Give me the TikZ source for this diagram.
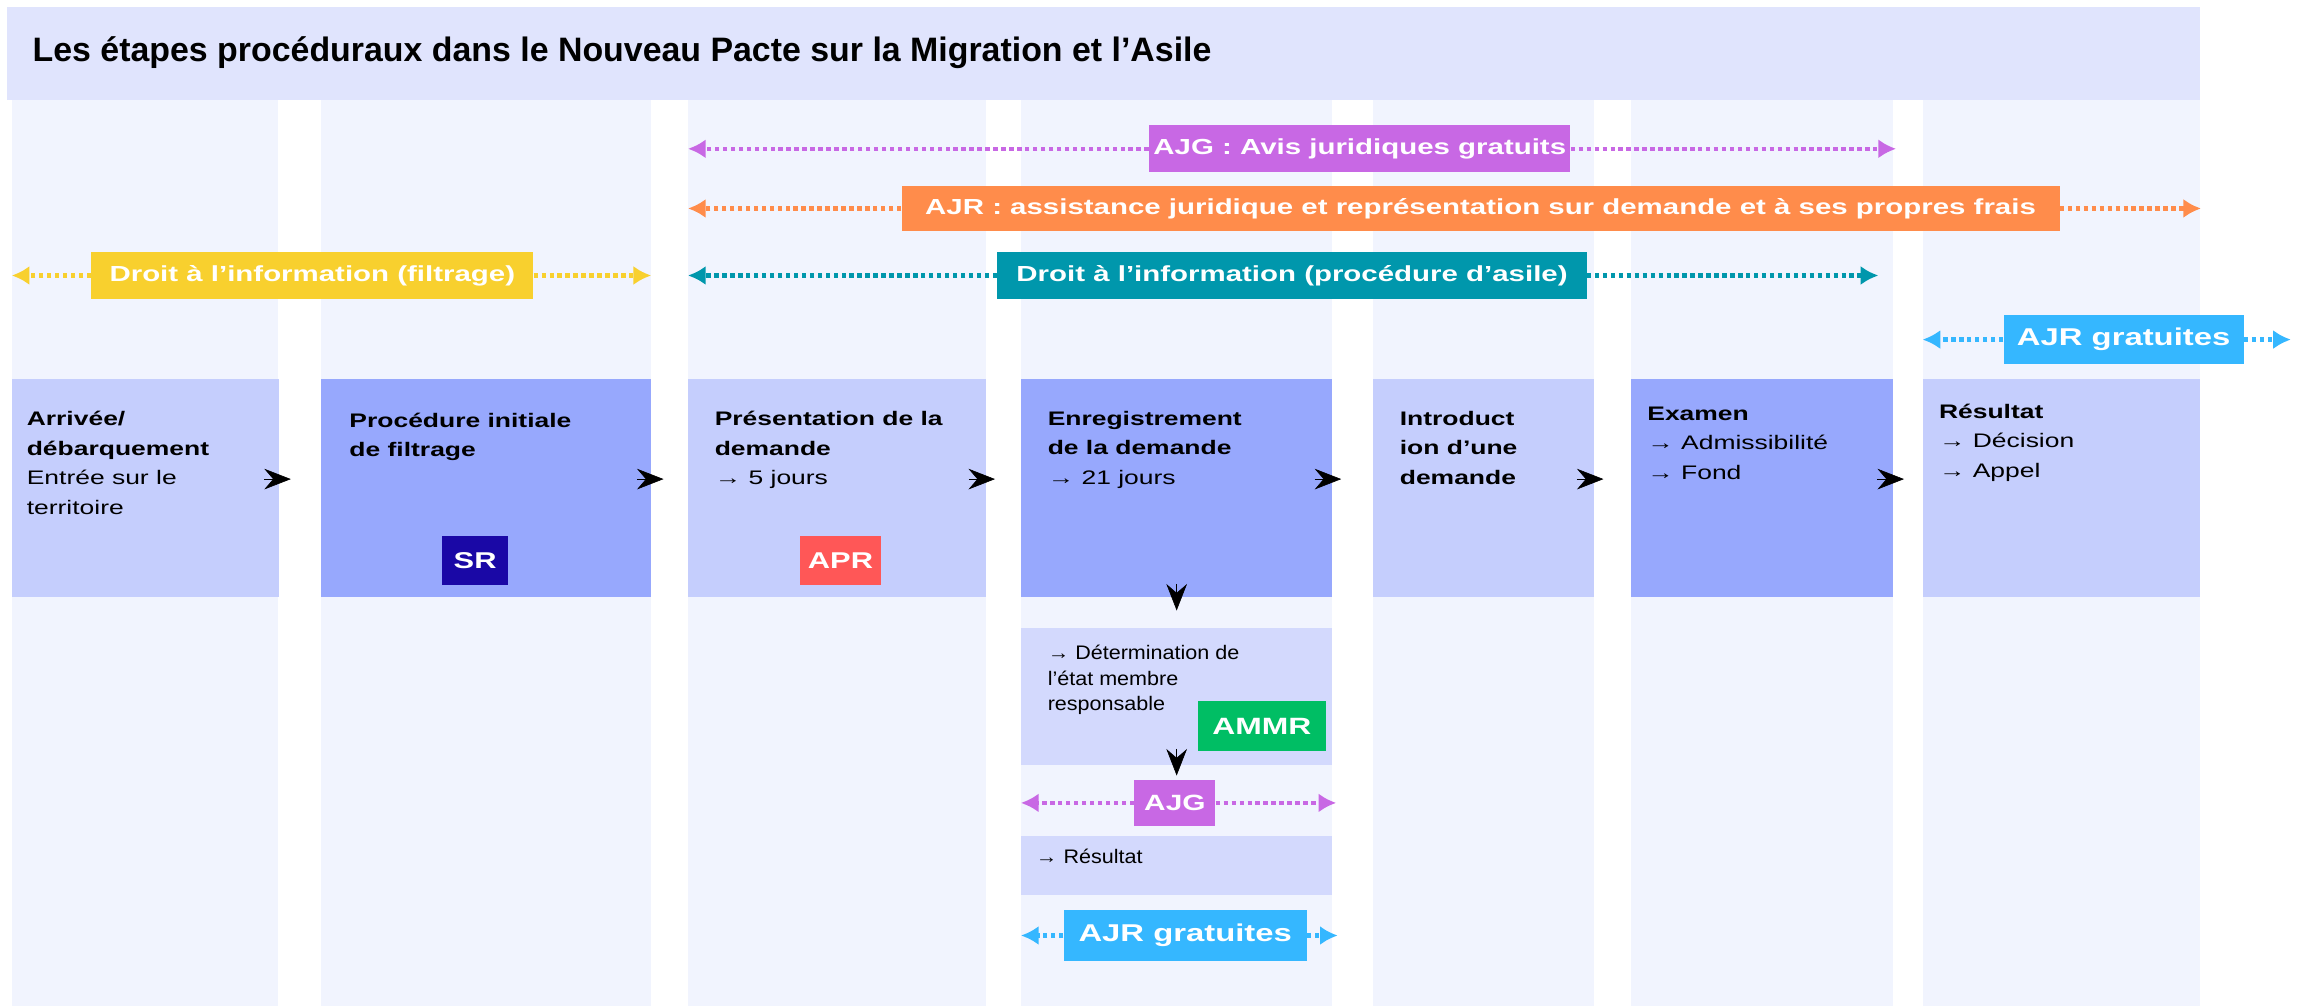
\documentclass[tikz,border=0pt]{standalone}
\usepackage{fontspec}
\setmainfont{Liberation Sans}[FakeStretch=1.35]
\newfontfamily\titlefont{Liberation Sans}
\newfontfamily\notefont{Liberation Sans}[FakeStretch=1.1]
\usepackage{xcolor}
\usepackage{tikz}
\usetikzlibrary{arrows.meta}

\definecolor{bandblue}{HTML}{E0E4FD}
\definecolor{colblue}{HTML}{F1F4FE}
\definecolor{lightblue}{HTML}{C5CEFD}
\definecolor{darkblue}{HTML}{97A8FD}
\definecolor{subblue}{HTML}{D3D9FD}
\definecolor{srblue}{HTML}{1A08A6}
\definecolor{aprred}{HTML}{FF5757}
\definecolor{ammrgreen}{HTML}{00BE64}
\definecolor{ajgpurple}{HTML}{C868E4}
\definecolor{ajrorange}{HTML}{FF8C4B}
\definecolor{infoyellow}{HTML}{F8D02E}
\definecolor{infoteal}{HTML}{0097AC}
\definecolor{freeblue}{HTML}{35B7FF}

\begin{document}
\begin{tikzpicture}%
                    [x=1pt, y=-1pt,
                    stepbox/.style={anchor=north west, inner sep=0pt, minimum height=148pt},
                    lightstep/.style={stepbox, fill=lightblue},
                    darkstep/.style={stepbox, fill=darkblue},
                    substep/.style={anchor=north west, inner sep=0pt, minimum width=211pt, fill=subblue},
                    steptext/.style={anchor=north west, align=left, inner sep=0pt, font=\fontsize{13.3}{20}\selectfont, execute at begin node=\strut},
                    notetext/.style={anchor=north west, align=left, inner sep=0pt, font=\notefont\fontsize{13.3}{17.5}\selectfont, execute at begin node=\strut},
                    badge/.style={text=white, inner sep=0pt, minimum height=33pt, font=\fontsize{15.5}{15.5}\selectfont\bfseries},
                    tag/.style={text=white, inner sep=0pt, minimum height=32pt, font=\fontsize{14.8}{14.8}\selectfont\bfseries},
                    bigtag/.style={tag, minimum height=33pt, font=\fontsize{16.5}{16.5}\selectfont\bfseries},
                    dots/.style={line width=3pt, dash pattern=on 3pt off 2.4pt, -{Latex[length=12pt,width=13pt]}},
                    flow/.style={-{Stealth[length=18pt,width=14pt,inset=6pt]}}]

                \useasboundingbox (0,0) rectangle (1568,683);
                %% Drawing the columns and the title band
                \foreach \l/\r in {8/189, 218/442, 467/669, 693/904, 932/1082, 1107/1285, 1305/1493}
                    \fill[colblue] (\l,68) rectangle (\r,683);
                \fill[bandblue] (5,5) rectangle (1493,68);
                \node[anchor=west, inner sep=0pt, font=\titlefont\fontsize{23}{23}\selectfont\bfseries] (titre) at (22,36) {Les étapes procéduraux dans le Nouveau Pacte sur la Migration et l’Asile};
                %%
                %% Drawing the rights
                %%
                \coordinate (ajgL) at (467,101);
                \coordinate (ajgR) at (1287,101);
                \node[tag, fill=ajgpurple, minimum width=286pt] (ajg) at (923,101) {AJG : Avis juridiques gratuits};
                \draw[dots, ajgpurple] (ajg) -- (ajgL);
                \draw[dots, ajgpurple] (ajg) -- (ajgR);

                \coordinate (ajrL) at (467,141.5);
                \coordinate (ajrR) at (1494,141.5);
                \node[tag, fill=ajrorange, minimum width=786pt, minimum height=31pt] (ajr) at (1005,141.5) {AJR : assistance juridique et représentation sur demande et à ses propres frais};
                \draw[dots, ajrorange] (ajr) -- (ajrL);
                \draw[dots, ajrorange] (ajr) -- (ajrR);

                \coordinate (filL) at (8,187);
                \coordinate (filR) at (442,187);
                \node[tag, fill=infoyellow, minimum width=300pt] (filtre) at (212,187) {Droit à l’information (filtrage)};
                \draw[dots, infoyellow] (filtre) -- (filL);
                \draw[dots, infoyellow] (filtre) -- (filR);

                \coordinate (asiL) at (467,187);
                \coordinate (asiR) at (1275,187);
                \node[tag, fill=infoteal, minimum width=400pt] (asile) at (877,187) {Droit à l’information (procédure d’asile)};
                \draw[dots, infoteal] (asile) -- (asiL);
                \draw[dots, infoteal] (asile) -- (asiR);

                \coordinate (freeL) at (1305,230.5);
                \coordinate (freeR) at (1555,230.5);
                \node[bigtag, fill=freeblue, minimum width=163pt] (free) at (1441.5,230.5) {AJR gratuites};
                \draw[dots, freeblue] (free) -- (freeL);
                \draw[dots, freeblue] (free) -- (freeR);
                %%
                %% Drawing the steps
                %%
                \node[lightstep, minimum width=181pt] (arrivee) at (8,257) {};
                \node[darkstep, minimum width=224pt] (filtrage) at (218,257) {};
                \node[lightstep, minimum width=202pt] (presentation) at (467,257) {};
                \node[darkstep, minimum width=211pt] (enregistrement) at (693,257) {};
                \node[lightstep, minimum width=150pt] (introduction) at (932,257) {};
                \node[darkstep, minimum width=178pt] (examen) at (1107,257) {};
                \node[lightstep, minimum width=188pt] (resultat) at (1305,257) {};

                \node[steptext] (arriveeT) at (18,279) {\textbf{Arrivée/}\\\textbf{débarquement}\\Entrée sur le\\territoire};
                \node[steptext] (filtrageT) at (237,280) {\textbf{Procédure initiale}\\\textbf{de filtrage}};
                \node[steptext] (presentationT) at (485,279) {\textbf{Présentation de la}\\\textbf{demande}\\→ 5 jours};
                \node[steptext] (enregistrementT) at (711,279) {\textbf{Enregistrement}\\\textbf{de la demande}\\→ 21 jours};
                \node[steptext] (introductionT) at (950,279) {\textbf{Introduct}\\\textbf{ion d’une}\\\textbf{demande}};
                \node[steptext] (examenT) at (1118,276) {\textbf{Examen}\\→ Admissibilité\\→ Fond};
                \node[steptext] (resultatT) at (1316,274) {\textbf{Résultat}\\→ Décision\\→ Appel};

                \node[badge, fill=srblue, minimum width=45pt] (sr) at (322.5,380.5) {SR};
                \node[badge, fill=aprred, minimum width=55pt] (apr) at (570.5,380.5) {APR};

                \foreach \a/\tip in {arrivee/8, filtrage/8, presentation/6, enregistrement/6, introduction/6, examen/7}
                    \draw[flow] ([shift={(\tip-18,-6)}]\a.east) -- ([shift={(\tip,-6)}]\a.east);
                %%
                %% Drawing the Dublin branch
                %%
                \node[substep, minimum height=93pt] (etat) at (693,426) {};
                \node[notetext] (etatT) at (711,437.5) {→ Détermination de\\l’état membre\\responsable};
                \node[badge, fill=ammrgreen, minimum width=87pt, minimum height=34pt, font=\fontsize{16}{16}\selectfont\bfseries] (ammr) at (856.5,493) {AMMR};
                \draw[flow] ([yshift=9pt]enregistrement.south) -- ([yshift=-9pt]enregistrement.south);

                \coordinate (ajgbL) at (693,545);
                \coordinate (ajgbR) at (907,545);
                \node[tag, fill=ajgpurple, minimum width=55pt, minimum height=31pt, font=\fontsize{15}{15}\selectfont\bfseries] (ajgb) at (797.5,545) {AJG};
                \draw[dots, ajgpurple] (ajgb) -- (ajgbL);
                \draw[dots, ajgpurple] (ajgb) -- (ajgbR);
                \draw[flow] ([yshift=11pt]etat.south) -- ([yshift=-7pt]etat.south);

                \node[substep, minimum height=40pt] (issue) at (693,567) {};
                \node[notetext] (issueT) at (703,574) {→ Résultat};

                \coordinate (freebL) at (693,635);
                \coordinate (freebR) at (908,635);
                \node[bigtag, fill=freeblue, minimum width=165pt, minimum height=34pt] (freeb) at (804.5,635) {AJR gratuites};
                \draw[dots, freeblue] (freeb) -- (freebL);
                \draw[dots, freeblue] (freeb) -- (freebR);
                %%
                %%
\end{tikzpicture}
\end{document}
